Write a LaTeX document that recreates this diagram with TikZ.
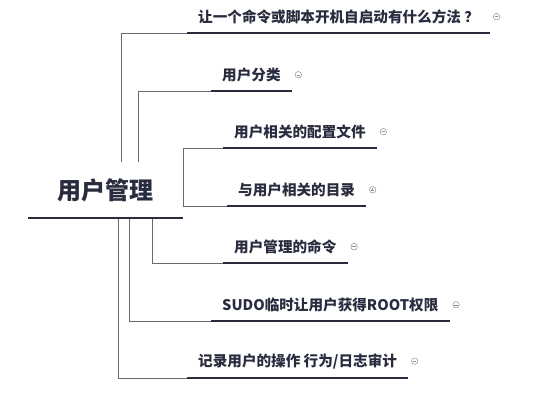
\documentclass[tikz,border=0pt]{standalone}
\usepackage{fontspec}
\setmainfont{Noto Sans CJK SC}
\usetikzlibrary{positioning, backgrounds}
\definecolor{inkNavy}{RGB}{40, 44, 62}
\definecolor{lineGray}{RGB}{105, 105, 110}
\definecolor{iconGray}{RGB}{140, 140, 145}

\begin{document}
\begin{tikzpicture}[
    x=1pt, y=-1pt,
    root/.style={font=\fontsize{24}{24}\selectfont\bfseries, text=inkNavy, fill=white, minimum width=155pt, inner xsep=0pt, inner ysep=16pt, anchor=south west},
    topic/.style={font=\fontsize{14.6}{14.6}\selectfont\bfseries, text=inkNavy, inner xsep=11pt, inner ysep=9pt, anchor=south west},
    uline/.style={line width=2.6pt, inkNavy},
    link/.style={line width=0.8pt, lineGray},
    fold/.style={circle, draw=iconGray, line width=0.5pt, minimum size=6.5pt, inner sep=0pt,
        path picture={\draw[iconGray, line width=0.5pt] ([xshift=1.6pt]path picture bounding box.west) -- ([xshift=-1.6pt]path picture bounding box.east);}},
    unfold/.style={circle, draw=iconGray, line width=0.5pt, minimum size=6.5pt, inner sep=0pt,
        path picture={\draw[iconGray, line width=0.5pt] ([xshift=1.6pt]path picture bounding box.west) -- ([xshift=-1.6pt]path picture bounding box.east)
            ([yshift=-1.6pt]path picture bounding box.north) -- ([yshift=1.6pt]path picture bounding box.south);}}
]
    \useasboundingbox (0,0) rectangle (533,405);

    % Nodes
    \node[root] (root) at (28,218) {用户管理};

    \node[topic] (q1) at (187,33) {让一个命令或脚本开机自启动有什么方法 ？};
    \node[topic] (q2) at (211,91) {用户分类};
    \node[topic] (q3) at (223,148) {用户相关的配置文件};
    \node[topic] (q4) at (227,206) {与用户相关的目录};
    \node[topic] (q5) at (223,263) {用户管理的命令};
    \node[topic] (q6) at (211,321) {SUDO临时让用户获得ROOT权限};
    \node[topic] (q7) at (187,378) {记录用户的操作 行为/日志审计};

    % Underlines
    \foreach \n in {root,q1,q2,q3,q4,q5,q6,q7}
        \draw[uline] (\n.south west) -- (\n.south east);

    % Fold markers
    \node[fold, right=3pt of q1] (q1-i) {};
    \node[fold, right=3pt of q2] (q2-i) {};
    \node[fold, right=3pt of q3] (q3-i) {};
    \node[unfold, right=3pt of q4] (q4-i) {};
    \node[fold, right=3pt of q5] (q5-i) {};
    \node[fold, right=3pt of q6] (q6-i) {};
    \node[fold, right=3pt of q7] (q7-i) {};

    % Connections
    \begin{scope}[on background layer]
        \draw[link] ([xshift=93pt]root.north west) |- (q1.south west);
        \draw[link] ([xshift=110pt]root.north west) |- (q2.south west);
        \draw[link] (root.east) |- (q3.south west);
        \draw[link] (root.east) |- (q4.south west);
        \draw[link] ([xshift=124pt]root.south west) |- (q5.south west);
        \draw[link] ([xshift=101pt]root.south west) |- (q6.south west);
        \draw[link] ([xshift=90pt]root.south west) |- (q7.south west);
    \end{scope}
\end{tikzpicture}
\end{document}
